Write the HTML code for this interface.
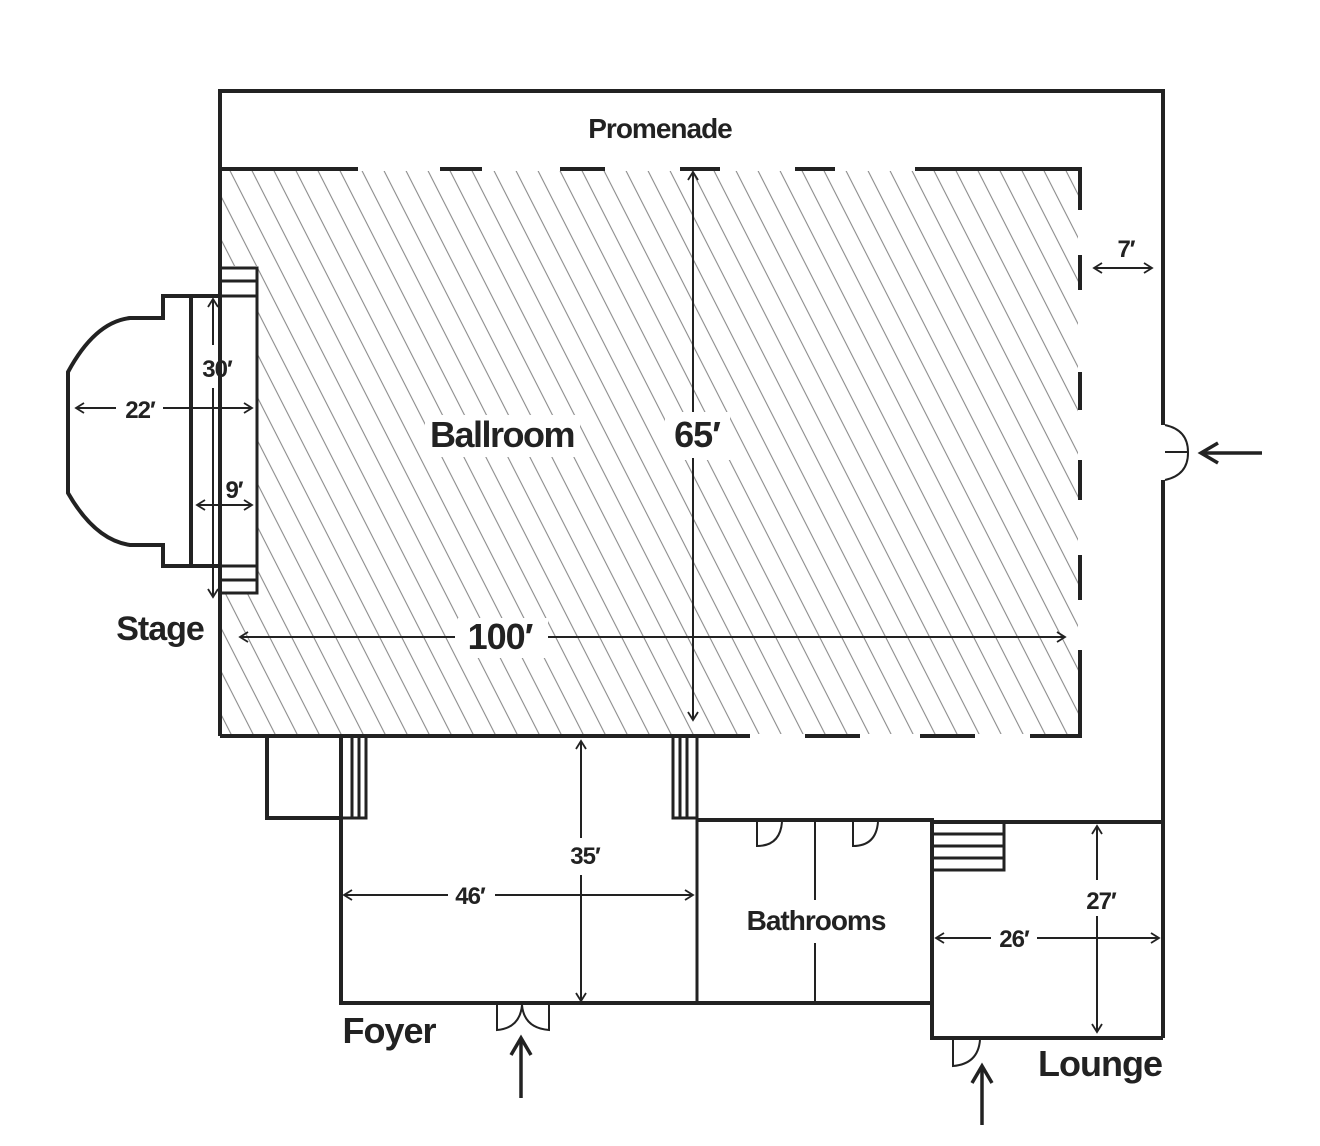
<!DOCTYPE html>
<html><head><style>
html,body{margin:0;padding:0;background:#fff;}
svg{display:block;}
text{font-family:"Liberation Sans",sans-serif;font-weight:bold;fill:#222;text-anchor:middle;}
</style></head><body>
<svg width="1320" height="1146" viewBox="0 0 1320 1146" xmlns="http://www.w3.org/2000/svg">
<defs>
<clipPath id="hc"><rect x="222" y="171" width="856" height="563"/></clipPath>
<pattern id="hp" patternUnits="userSpaceOnUse" width="22" height="44" patternTransform="skewX(27)">
<line x1="11" y1="0" x2="11" y2="44" stroke="#888" stroke-width="1.2"/>
</pattern>
<marker id="ah" markerWidth="12" markerHeight="12" refX="10" refY="6" orient="auto-start-reverse" markerUnits="userSpaceOnUse">
<path d="M2,1 L10,6 L2,11" fill="none" stroke="#222" stroke-width="1.8"/>
</marker>
<marker id="bh" markerWidth="24" markerHeight="26" refX="20" refY="12" orient="auto" markerUnits="userSpaceOnUse">
<path d="M3,2 L20,12 L3,22" fill="none" stroke="#222" stroke-width="3.5"/>
</marker>
</defs>
<!-- hatch -->
<rect x="222" y="171" width="856" height="563" fill="url(#hp)" clip-path="url(#hc)"/>
<rect x="160" y="290" width="98" height="280" fill="#fff"/>
<rect x="220" y="266" width="38" height="328" fill="#fff"/>
<rect x="458" y="618" width="90" height="40" fill="#fff"/>
<rect x="665" y="412" width="65" height="48" fill="#fff"/>
<rect x="425" y="415" width="155" height="42" fill="#fff"/>
<g fill="none" stroke="#222" stroke-width="4">
<path d="M220,736 L220,91 L1163,91 L1163,425 M1163,480 L1163,1038"/>
<path d="M220,169 H358 M440,169 H482 M560,169 H605 M680,169 H720 M795,169 H835 M915,169 H1080 V210 M1080,255 V290 M1080,372 V410 M1080,460 V500 M1080,555 V600 M1080,650 V736 H1030 M975,736 H920 M860,736 H805 M750,736 H220"/>
<path d="M220,268 H257 V593 H220 M220,296 H257 M220,566 H257 M220,281 H257 M220,580 H257" stroke-width="3"/>
<path d="M220,296 H163 V318 H130 Q95,322 68,372 V493 Q95,540 130,545 H163 V566 H220"/>
<path d="M191,296 V566"/>
<path d="M267,736 V818 H341 M341,736 V1003 H932"/>
<path d="M341,736 V818 H366 V736 M352,738 V818 M359,738 V818" stroke-width="3"/>
<path d="M673,736 V818 H697 M697,736 V1003 M680,738 V818 M687,738 V818" stroke-width="3"/>
<path d="M697,820 H932 V1038 H1163 M932,822 H1163"/>
<path d="M932,822 V870 H1004 V822 M932,834 H1004 M932,846 H1004 M932,858 H1004" stroke-width="3"/>
<path d="M815,820 V900 M815,943 V1003" stroke-width="2"/>
<path d="M757,822 V846 Q780,846 782,822 M853,822 V846 Q876,846 878,822" stroke-width="2"/>
<path d="M953,1040 V1066 Q978,1064 980,1040" stroke-width="2"/>
<path d="M497,1005 V1030 Q520,1028 522,1005 M549,1005 V1030 Q524,1028 522,1005" stroke-width="2"/>
<path d="M1165,425 Q1188,430 1188,452 Q1175,452 1165,452 M1165,480 Q1188,475 1188,453" stroke-width="2"/>
</g>
<g stroke="#222" stroke-width="2" fill="none">
<line x1="240" y1="637" x2="455" y2="637" marker-start="url(#ah)"/>
<line x1="548" y1="637" x2="1065" y2="637" marker-end="url(#ah)"/>
<line x1="693" y1="172" x2="693" y2="412" marker-start="url(#ah)"/>
<line x1="693" y1="458" x2="693" y2="720" marker-end="url(#ah)"/>
<line x1="76" y1="408" x2="116" y2="408" marker-start="url(#ah)"/>
<line x1="163" y1="408" x2="252" y2="408" marker-end="url(#ah)"/>
<line x1="213" y1="299" x2="213" y2="345" marker-start="url(#ah)"/>
<line x1="213" y1="388" x2="213" y2="597" marker-end="url(#ah)"/>
<line x1="197" y1="505" x2="252" y2="505" marker-start="url(#ah)" marker-end="url(#ah)"/>
<line x1="1094" y1="268" x2="1152" y2="268" marker-start="url(#ah)" marker-end="url(#ah)"/>
<line x1="344" y1="895" x2="448" y2="895" marker-start="url(#ah)"/>
<line x1="495" y1="895" x2="693" y2="895" marker-end="url(#ah)"/>
<line x1="581" y1="741" x2="581" y2="838" marker-start="url(#ah)"/>
<line x1="581" y1="875" x2="581" y2="1001" marker-end="url(#ah)"/>
<line x1="936" y1="938" x2="991" y2="938" marker-start="url(#ah)"/>
<line x1="1037" y1="938" x2="1159" y2="938" marker-end="url(#ah)"/>
<line x1="1097" y1="826" x2="1097" y2="880" marker-start="url(#ah)"/>
<line x1="1097" y1="916" x2="1097" y2="1032" marker-end="url(#ah)"/>
</g>
<g stroke="#222" stroke-width="3.5" fill="none">
<line x1="1262" y1="453" x2="1201" y2="453" marker-end="url(#bh)"/>
<line x1="521" y1="1098" x2="521" y2="1038" marker-end="url(#bh)"/>
<line x1="982" y1="1125" x2="982" y2="1066" marker-end="url(#bh)"/>
</g>
<text x="660" y="138" font-size="28" letter-spacing="-1">Promenade</text>
<text x="502" y="447" font-size="36" letter-spacing="-1.5">Ballroom</text>
<text x="697" y="447" font-size="36" letter-spacing="-1">65′</text>
<text x="500" y="649" font-size="36" letter-spacing="-1">100′</text>
<text x="160" y="640" font-size="34" letter-spacing="-1">Stage</text>
<text x="140" y="418" font-size="24" letter-spacing="-1">22′</text>
<text x="217" y="377" font-size="24" letter-spacing="-1">30′</text>
<text x="234" y="498" font-size="24" letter-spacing="-1">9′</text>
<text x="1126" y="257" font-size="24" letter-spacing="-1">7′</text>
<text x="470" y="904" font-size="24" letter-spacing="-1">46′</text>
<text x="585" y="864" font-size="24" letter-spacing="-1">35′</text>
<text x="816" y="930" font-size="28" letter-spacing="-1">Bathrooms</text>
<text x="1014" y="947" font-size="24" letter-spacing="-1">26′</text>
<text x="1101" y="909" font-size="24" letter-spacing="-1">27′</text>
<text x="389" y="1043" font-size="36" letter-spacing="-1">Foyer</text>
<text x="1100" y="1076" font-size="36" letter-spacing="-1">Lounge</text>
</svg>
</body></html>
